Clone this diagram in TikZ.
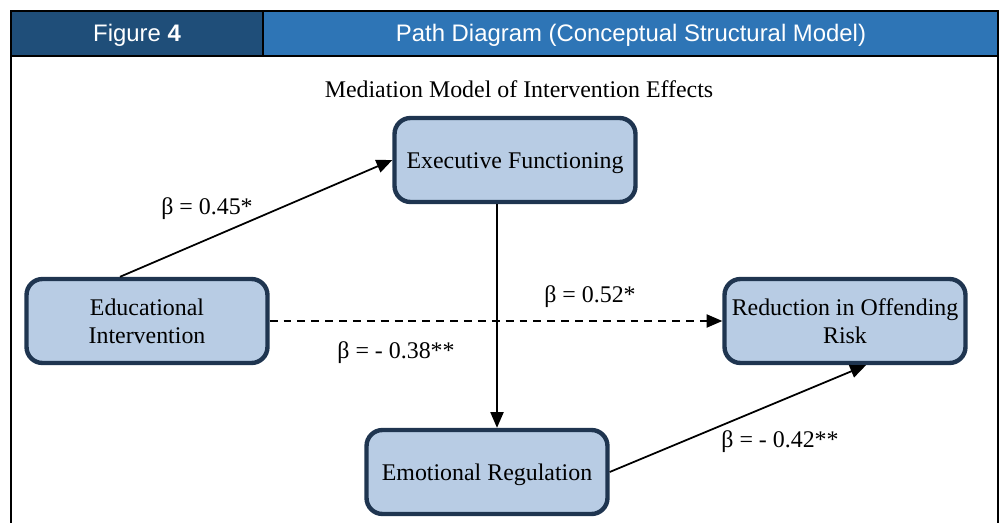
\documentclass[tikz,border=0pt]{standalone}
\usepackage{fontspec}
\setmainfont{Liberation Serif}
\newfontfamily\headfont{Liberation Sans}
\usetikzlibrary{arrows.meta,calc}
\definecolor{headdark}{HTML}{1F4E79}
\definecolor{headlight}{HTML}{2E75B6}
\definecolor{boxfill}{HTML}{B8CCE4}
\definecolor{boxline}{HTML}{1F3550}

\begin{document}
\begin{tikzpicture}[x=0.02cm,y=-0.02cm,
	var/.style={draw=boxline,fill=boxfill,line width=2.5pt,rounded corners=0.32cm,minimum width=4.82cm,minimum height=1.68cm,align=center,font=\fontsize{13.6}{16}\selectfont},
	oneline/.style={text height=12.6pt,text depth=3pt},
	path/.style={line width=1pt,-{Triangle[length=9pt,width=7.5pt]}},
	coef/.style={font=\fontsize{13.6}{16}\selectfont}]
	\useasboundingbox (0,0) rectangle (1003,523);
	% header bar
	\fill[headdark] (11,11) rectangle (263,56);
	\fill[headlight] (263,11) rectangle (998,56);
	\draw[line width=1.5pt] (11,523) -- (11,11) -- (998,11) -- (998,523);
	\draw[line width=1.5pt] (11,56) -- (998,56);
	\draw[line width=1.5pt] (263,11) -- (263,56);
	\node[text=white,font=\headfont\fontsize{13.6}{16}\selectfont] (fignum) at (137,35) {Figure \textbf{4}};
	\node[text=white,font=\headfont\fontsize{13.6}{16}\selectfont] (figtitle) at (631,35) {Path Diagram (Conceptual Structural Model)};
	\node[font=\fontsize{13.6}{16}\selectfont] (title) at (519,89) {Mediation Model of Intervention Effects};
	% variables
	\node[var,oneline] (exec) at (515,160) {Executive Functioning};
	\node[var] (edu) at (147,321) {Educational\\Intervention};
	\node[var] (red) at (845,321) {Reduction in Offending\\Risk};
	\node[var,oneline] (emo) at (487,472) {Emotional Regulation};
	% paths
	\coordinate (vx) at (497,0);
	\draw[path] ($(edu.north)+(-27,0)$) -- (exec.west);
	\draw[path] (exec.south -| vx) -- (emo.north -| vx);
	\draw[path,dash pattern=on 4.5pt off 3.4pt] (edu.east) -- (red.west);
	\draw[path] (emo.east) -- ($(red.south)+(21,0)$);
	\node[coef] (b1) at (207,209) {β = 0.45*};
	\node[coef] (b2) at (590,297) {β = 0.52*};
	\node[coef] (b3) at (396,353) {β = - 0.38**};
	\node[coef] (b4) at (780,442) {β = - 0.42**};
\end{tikzpicture}
\end{document}
